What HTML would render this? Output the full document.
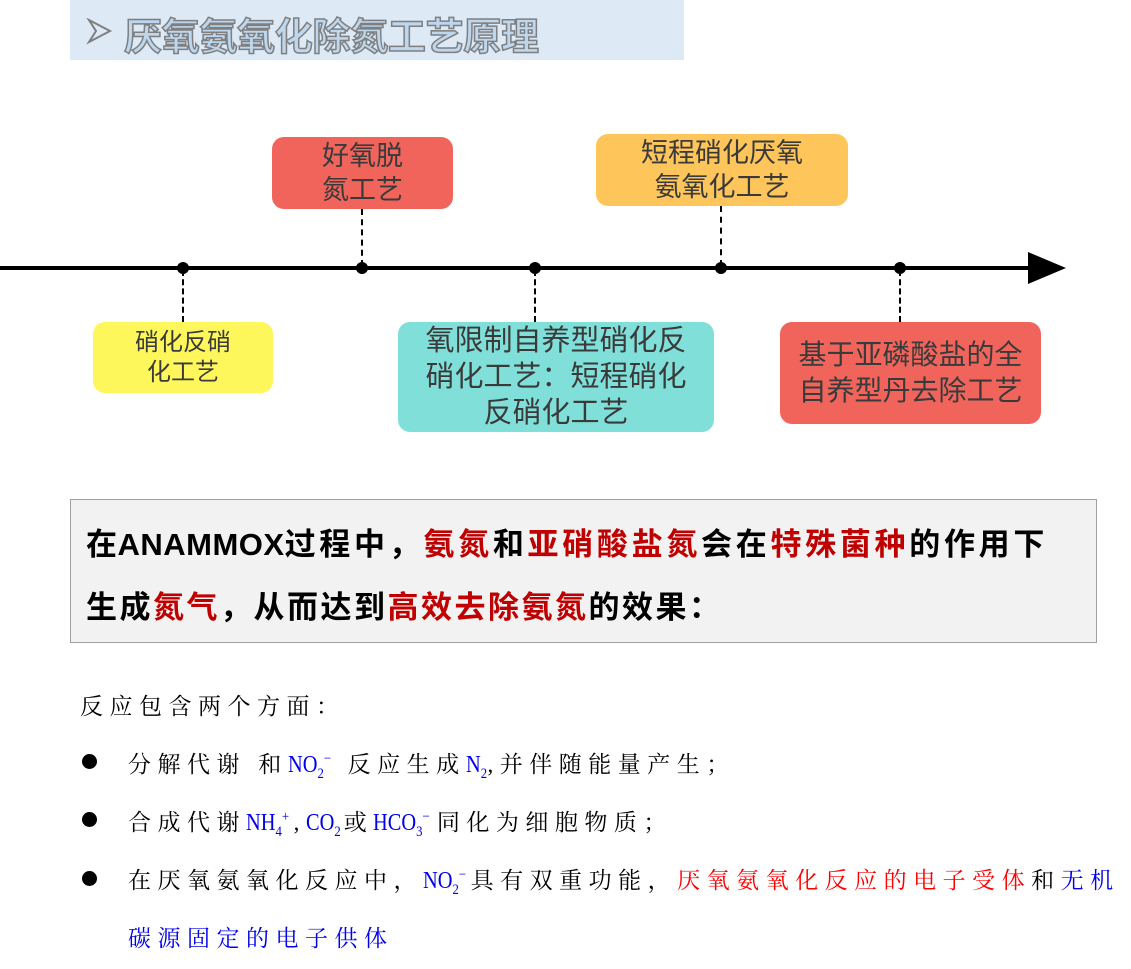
<!DOCTYPE html>
<html><head><meta charset="utf-8"><style>
body{margin:0;width:1131px;height:969px;background:#fff;position:relative;overflow:hidden;font-family:"Liberation Sans","Noto Sans CJK SC",sans-serif}
.a{position:absolute}
.box{position:absolute;border-radius:12px;color:#3a3a3a;text-align:center;display:flex;align-items:center;justify-content:center;font-size:27px;line-height:34px}
.dot{position:absolute;width:12px;height:12px;border-radius:50%;background:#000;margin:-6px 0 0 -6px;top:268px}
.dash{position:absolute;border-left:2px dashed #000;width:0}
.red{color:#c00000}
.s{font-family:"Liberation Serif","Noto Serif CJK SC",serif;font-size:23px;letter-spacing:6.5px;position:absolute;left:128px;color:#000;white-space:nowrap}
.b{color:#0000ee;letter-spacing:0;font-family:"Liberation Serif",serif;font-size:24px;display:inline-block;transform:scaleX(0.85);transform-origin:left;margin-right:-3px}
.bul{position:absolute;left:82px;width:15px;height:15px;border-radius:50%;background:#000}
sub,sup{font-size:15px}
</style></head><body>
<div class="a" style="left:70px;top:0;width:614px;height:60px;background:#dde9f5"></div>
<svg class="a" style="left:86px;top:18px" width="28" height="28"><polygon points="3,2 24,13 3,24 10,13" fill="#dde9f5" stroke="#7f7f7f" stroke-width="2"/></svg>
<div class="a" style="left:124px;top:6px;font-size:38px;font-weight:bold;color:#bcd7ee;-webkit-text-stroke:1.5px #7f7f7f;letter-spacing:-0.3px">厌氧氨氧化除氮工艺原理</div>

<div class="a" style="left:0;top:266px;width:1035px;height:4px;background:#000"></div>
<svg class="a" style="left:1028px;top:252px" width="40" height="34"><polygon points="0,0 38,16 0,32" fill="#000"/></svg>
<div class="dot" style="left:183px"></div><div class="dot" style="left:362px"></div><div class="dot" style="left:535px"></div><div class="dot" style="left:721px"></div><div class="dot" style="left:900px"></div>
<div class="dash" style="left:182px;top:270px;height:52px"></div>
<div class="dash" style="left:361px;top:209px;height:57px"></div>
<div class="dash" style="left:534px;top:270px;height:52px"></div>
<div class="dash" style="left:720px;top:206px;height:60px"></div>
<div class="dash" style="left:899px;top:270px;height:52px"></div>

<div class="box" style="left:272px;top:137px;width:181px;height:72px;background:#f1645b">好氧脱<br>氮工艺</div>
<div class="box" style="left:596px;top:134px;width:252px;height:72px;background:#fec55b">短程硝化厌氧<br>氨氧化工艺</div>
<div class="box" style="left:93px;top:322px;width:180px;height:71px;background:#fef75b;font-size:24px;line-height:30px">硝化反硝<br>化工艺</div>
<div class="box" style="left:398px;top:322px;width:316px;height:110px;background:#80e0d9;line-height:36px;font-size:29px">氧限制自养型硝化反<br>硝化工艺：短程硝化<br>反硝化工艺</div>
<div class="box" style="left:780px;top:322px;width:261px;height:102px;background:#f1645b;line-height:36px;font-size:28px">基于亚磷酸盐的全<br>自养型丹去除工艺</div>

<div class="a" style="left:70px;top:499px;width:1025px;height:142px;background:#f2f2f2;border:1.5px solid #a0a0a0"></div>
<div class="a" style="left:86px;top:513px;font-size:31px;font-weight:bold;color:#000;line-height:63px;letter-spacing:3.7px;white-space:nowrap"><span style="letter-spacing:0.5px">在ANAMMOX</span>过程中，<span class="red">氨氮</span>和<span class="red">亚硝酸盐氮</span>会在<span class="red">特殊菌种</span>的作用下<br><span style="letter-spacing:2.5px">生成<span class="red">氮气</span>，从而达到<span class="red">高效去除氨氮</span>的效果：</span></div>

<div class="s" style="left:80px;top:688px">反应包含两个方面：</div>
<div class="bul" style="top:754px"></div>
<div class="s" style="top:746px">分解代谢 和<span class="b">NO<sub>2</sub><sup>−</sup></span> 反应生成<span class="b">N<sub>2</sub></span>,并伴随能量产生；</div>
<div class="bul" style="top:812px"></div>
<div class="s" style="top:804px">合成代谢<span class="b">NH<sub>4</sub><sup>+</sup></span>,<span class="b">CO<sub>2</sub></span>或<span class="b">HCO<sub>3</sub><sup>−</sup></span>同化为细胞物质；</div>
<div class="bul" style="top:871px"></div>
<div class="s" style="top:862px">在厌氧氨氧化反应中，<span class="b">NO<sub>2</sub><sup>−</sup></span>具有双重功能，<span style="color:#ff0000">厌氧氨氧化反应的电子受体</span>和<span style="color:#0000ee">无机</span></div>
<div class="s" style="top:920px;color:#0000ee">碳源固定的电子供体</div>
</body></html>
